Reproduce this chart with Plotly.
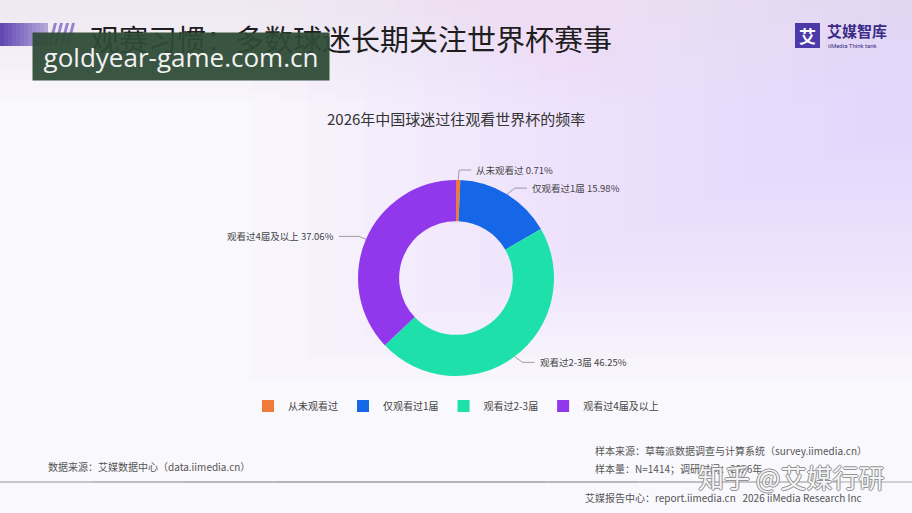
import math
import plotly.graph_objects as go

W, H = 912, 513

# ---------------- data ----------------
categories = ["从未观看过", "仅观看过1届", "观看过2-3届", "观看过4届及以上"]
values = [0.71, 15.98, 46.25, 37.06]
slice_colors = ["#F07A3A", "#1666E8", "#1EE0AA", "#9138EC"]

page_title = "观赛习惯：多数球迷长期关注世界杯赛事"
chart_title = "2026年中国球迷过往观看世界杯的频率"
source_left = "数据来源：艾媒数据中心（data.iimedia.cn）"
source_right1 = "样本来源：草莓派数据调查与计算系统（survey.iimedia.cn）"
source_right2 = "样本量：N=1414；调研时间：2026年"
footer = "艾媒报告中心：report.iimedia.cn   2026 iiMedia Research Inc"
site_mark = "goldyear-game.com.cn"
zhihu_mark = "知乎 @艾媒行研"

FONT = "Noto Sans CJK SC"


def px(x):
    return x / W


def py(y):
    return 1 - y / H


# pie geometry (pixels)
CX, CY, R = 456, 278, 98
HOLE = 0.58

fig = go.Figure()
fig.add_trace(go.Pie(
    labels=categories,
    values=values,
    marker=dict(colors=slice_colors, line=dict(width=0)),
    hole=HOLE,
    sort=False,
    direction="clockwise",
    rotation=0,
    textinfo="none",
    hoverinfo="label+percent",
    domain=dict(x=[px(CX - R), px(CX + R)], y=[py(CY + R), py(CY - R)]),
))

shapes = []
annotations = []

# ---------------- background ----------------
for i in range(24):
    t = i / 23
    shapes.append(dict(
        type="rect", xref="paper", yref="paper", layer="below",
        x0=px(250 + t * 662), x1=1, y0=py(120 + 260 * (1 - t)), y1=1,
        fillcolor="#D9CCF2", opacity=0.035, line=dict(width=0)))
for i in range(10):
    shapes.append(dict(
        type="rect", xref="paper", yref="paper", layer="below",
        x0=0, x1=1, y0=py(10 * (i + 1)), y1=1,
        fillcolor="#E6DEF5", opacity=0.06, line=dict(width=0)))
# header left decoration
for i in range(12):
    shapes.append(dict(
        type="rect", xref="paper", yref="paper",
        x0=px(i * 4), x1=px(i * 4 + 4), y0=py(46), y1=py(23),
        fillcolor="#5B3FB0", opacity=0.95 - i * 0.05, line=dict(width=0)))
for k in range(4):
    x0 = 48 + k * 6
    shapes.append(dict(
        type="path", xref="paper", yref="paper",
        path=f"M {px(x0)} {py(46)} L {px(x0 + 3)} {py(46)} L {px(x0 + 9)} {py(23)} L {px(x0 + 6)} {py(23)} Z",
        fillcolor="#7E68C0", opacity=0.8, line=dict(width=0)))

# page title
annotations.append(dict(
    x=px(88), y=py(38), xref="paper", yref="paper", xanchor="left", yanchor="middle",
    text=page_title, showarrow=False,
    font=dict(family=FONT, size=29, color="#1E1E1E")))

# site watermark box (drawn after the title so it covers it)
annotations.append(dict(
    x=px(181), y=py(56.5), xref="paper", yref="paper", xanchor="center", yanchor="middle",
    text=site_mark, showarrow=False, width=290, height=41,
    bgcolor="rgba(46,74,54,0.94)", borderpad=3,
    font=dict(family="Open Sans", size=26, color="#F2F2F2")))

# logo
shapes.append(dict(
    type="rect", xref="paper", yref="paper",
    x0=px(795), x1=px(820), y0=py(48), y1=py(23),
    fillcolor="#4B3AA8", line=dict(width=0)))
annotations.append(dict(
    x=px(807.5), y=py(35.5), xref="paper", yref="paper", xanchor="center", yanchor="middle",
    text="<b>艾</b>", showarrow=False, font=dict(family=FONT, size=17, color="white")))
annotations.append(dict(
    x=px(825), y=py(31), xref="paper", yref="paper", xanchor="left", yanchor="middle",
    text="<b>艾媒智库</b>", showarrow=False,
    font=dict(family=FONT, size=15, color="#3A2C86")))
annotations.append(dict(
    x=px(826), y=py(45), xref="paper", yref="paper", xanchor="left", yanchor="middle",
    text="iiMedia Think tank", showarrow=False,
    font=dict(family="Roboto", size=6, color="#3A2C86")))

# chart title
annotations.append(dict(
    x=0.5, y=py(118), xref="paper", yref="paper", xanchor="center", yanchor="middle",
    text=chart_title, showarrow=False,
    font=dict(family=FONT, size=15, color="#333333")))

# ---------------- slice labels with leader lines (from data) ----------------
total = sum(values)
cum = 0.0
for cat, v in zip(categories, values):
    mid = (cum + v / 2) / total
    cum += v
    ang = math.radians(90 - 360 * mid)
    sx = CX + R * math.cos(ang)
    sy = CY - R * math.sin(ang)
    right = math.cos(ang) >= 0
    if mid < 0.02:  # tiny slice near the top
        ex, ey = sx + 1, sy - 10
    else:
        ex = sx + (8 if right else -7) * (1 if abs(math.cos(ang)) > 0.2 else 0.5)
        ey = sy - 8 * math.sin(ang) * 0.9
    hx = ex + (12 if right else -20)
    shapes.append(dict(
        type="path", xref="paper", yref="paper",
        path=f"M {px(sx)} {py(sy)} L {px(ex)} {py(ey)} L {px(hx)} {py(ey)}",
        line=dict(color="#888888", width=0.8)))
    annotations.append(dict(
        x=px(hx + (3 if right else -3)), y=py(ey), xref="paper", yref="paper",
        xanchor="left" if right else "right", yanchor="middle",
        text=f"{cat} {v:.2f}%", showarrow=False,
        font=dict(family=FONT, size=9.5, color="#444444")))

# ---------------- footer ----------------
annotations.append(dict(
    x=px(46), y=py(466), xref="paper", yref="paper", xanchor="left", yanchor="middle",
    text=source_left, showarrow=False, font=dict(family=FONT, size=10, color="#555555")))
annotations.append(dict(
    x=px(593), y=py(450), xref="paper", yref="paper", xanchor="left", yanchor="middle",
    text=source_right1, showarrow=False, font=dict(family=FONT, size=10, color="#555555")))
annotations.append(dict(
    x=px(593), y=py(468), xref="paper", yref="paper", xanchor="left", yanchor="middle",
    text=source_right2, showarrow=False, font=dict(family=FONT, size=10, color="#555555")))
for i in range(10):
    t = i / 9
    shapes.append(dict(
        type="line", xref="paper", yref="paper",
        x0=px(i * W / 10), x1=px((i + 1) * W / 10), y0=py(482), y1=py(482),
        line=dict(color="#B4B4B8", width=2), opacity=0.5 + 0.5 * math.sin(math.pi * (t * 0.8 + 0.15))))
annotations.append(dict(
    x=px(583), y=py(497), xref="paper", yref="paper", xanchor="left", yanchor="middle",
    text=footer, showarrow=False, font=dict(family=FONT, size=10, color="#555555")))
annotations.append(dict(
    x=px(791), y=py(476), xref="paper", yref="paper", xanchor="center", yanchor="middle",
    text=zhihu_mark, showarrow=False,
    font=dict(family=FONT, size=26, color="rgba(255,255,255,0.92)",
              shadow="1px 0px 0px #8a8a8a, -1px 0px 0px #8a8a8a, 0px 1px 0px #8a8a8a, 0px -1px 0px #8a8a8a")))

fig.update_layout(
    width=W, height=H,
    margin=dict(l=0, r=0, t=0, b=0),
    paper_bgcolor="#F9F8FC",
    plot_bgcolor="rgba(0,0,0,0)",
    showlegend=True,
    legend=dict(
        orientation="h", x=0.5, xanchor="center", y=py(406), yanchor="middle",
        font=dict(family=FONT, size=10, color="#444444"),
        bgcolor="rgba(0,0,0,0)", itemwidth=30,
        traceorder="normal"),
    shapes=shapes,
    annotations=annotations,
    font=dict(family=FONT),
)

fig.write_html("out.html")
